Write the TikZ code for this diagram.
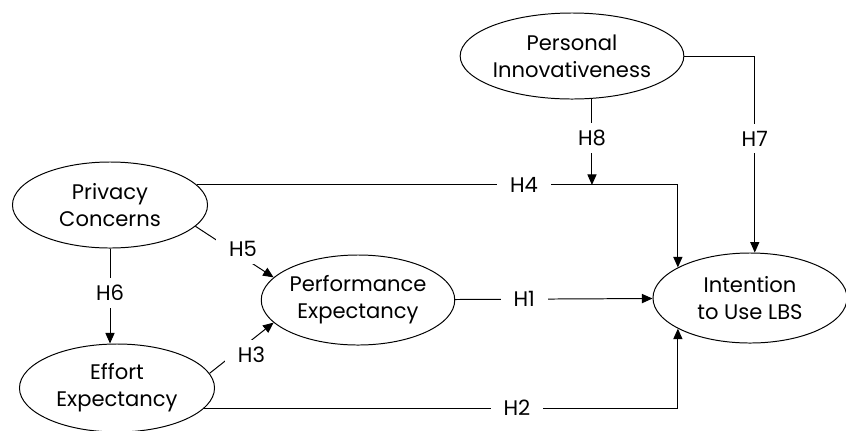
\documentclass[tikz,border=0pt]{standalone}
\usepackage{fontspec}
\setmainfont{Poppins}
\usetikzlibrary{arrows.meta,shapes.geometric}
\tikzset{
  construct/.style={draw, ellipse, inner sep=0pt, align=center, line width=0.7pt},
  hyp/.style={fill=white, inner xsep=9pt, inner ysep=5pt},
  link/.style={line width=0.7pt, -{Triangle[length=7.5pt,width=6.5pt]}},
}
\begin{document}
\begin{tikzpicture}[x=0.025cm, y=0.025cm, font=\fontsize{15}{19}\selectfont]
\useasboundingbox (0,0) rectangle (846,-430);
% constructs
\node[construct, minimum width=5.5cm, minimum height=2.15cm] (pi) at (572,-56) {Personal\\Innovativeness};
\node[construct, minimum width=4.875cm, minimum height=2.15cm] (pc) at (110,-205) {Privacy\\Concerns};
\node[construct, minimum width=4.65cm, minimum height=2.25cm] (pe) at (358,-300) {Performance\\Expectancy};
\node[construct, minimum width=4.875cm, minimum height=2.2cm] (ee) at (117,-388) {Effort\\Expectancy};
\node[construct, minimum width=4.85cm, minimum height=2.25cm] (it) at (750,-298) {Intention\\to Use LBS};
% hypotheses
\draw[link] (pe) -- node[hyp, pos=0.35] (h1) {H1} (it);
\draw[link] (ee.-13) -| node[hyp, pos=0.33] (h2) {H2} (it.-157);
\draw[link] (ee.9) -- node[hyp, xshift=7pt, yshift=-5pt] (h3) {H3} (pe.195);
\draw[link] (pc.13) -| node[hyp, pos=0.34] (h4) {H4} (it.157);
\draw[link] (pc.-14) -- node[hyp, xshift=6pt, yshift=2pt] (h5) {H5} (pe.165);
\draw[link] (pc.south) -- node[hyp, pos=0.47] (h6) {H6} (pc.south |- ee.north);
\draw[link] (pi.east) -| node[hyp, pos=0.71] (h7) {H7} (it.84);
\draw[link] (pi.-65) -- node[hyp, pos=0.45] (h8) {H8} (pi.-65 |- pc.13);
\end{tikzpicture}
\end{document}
